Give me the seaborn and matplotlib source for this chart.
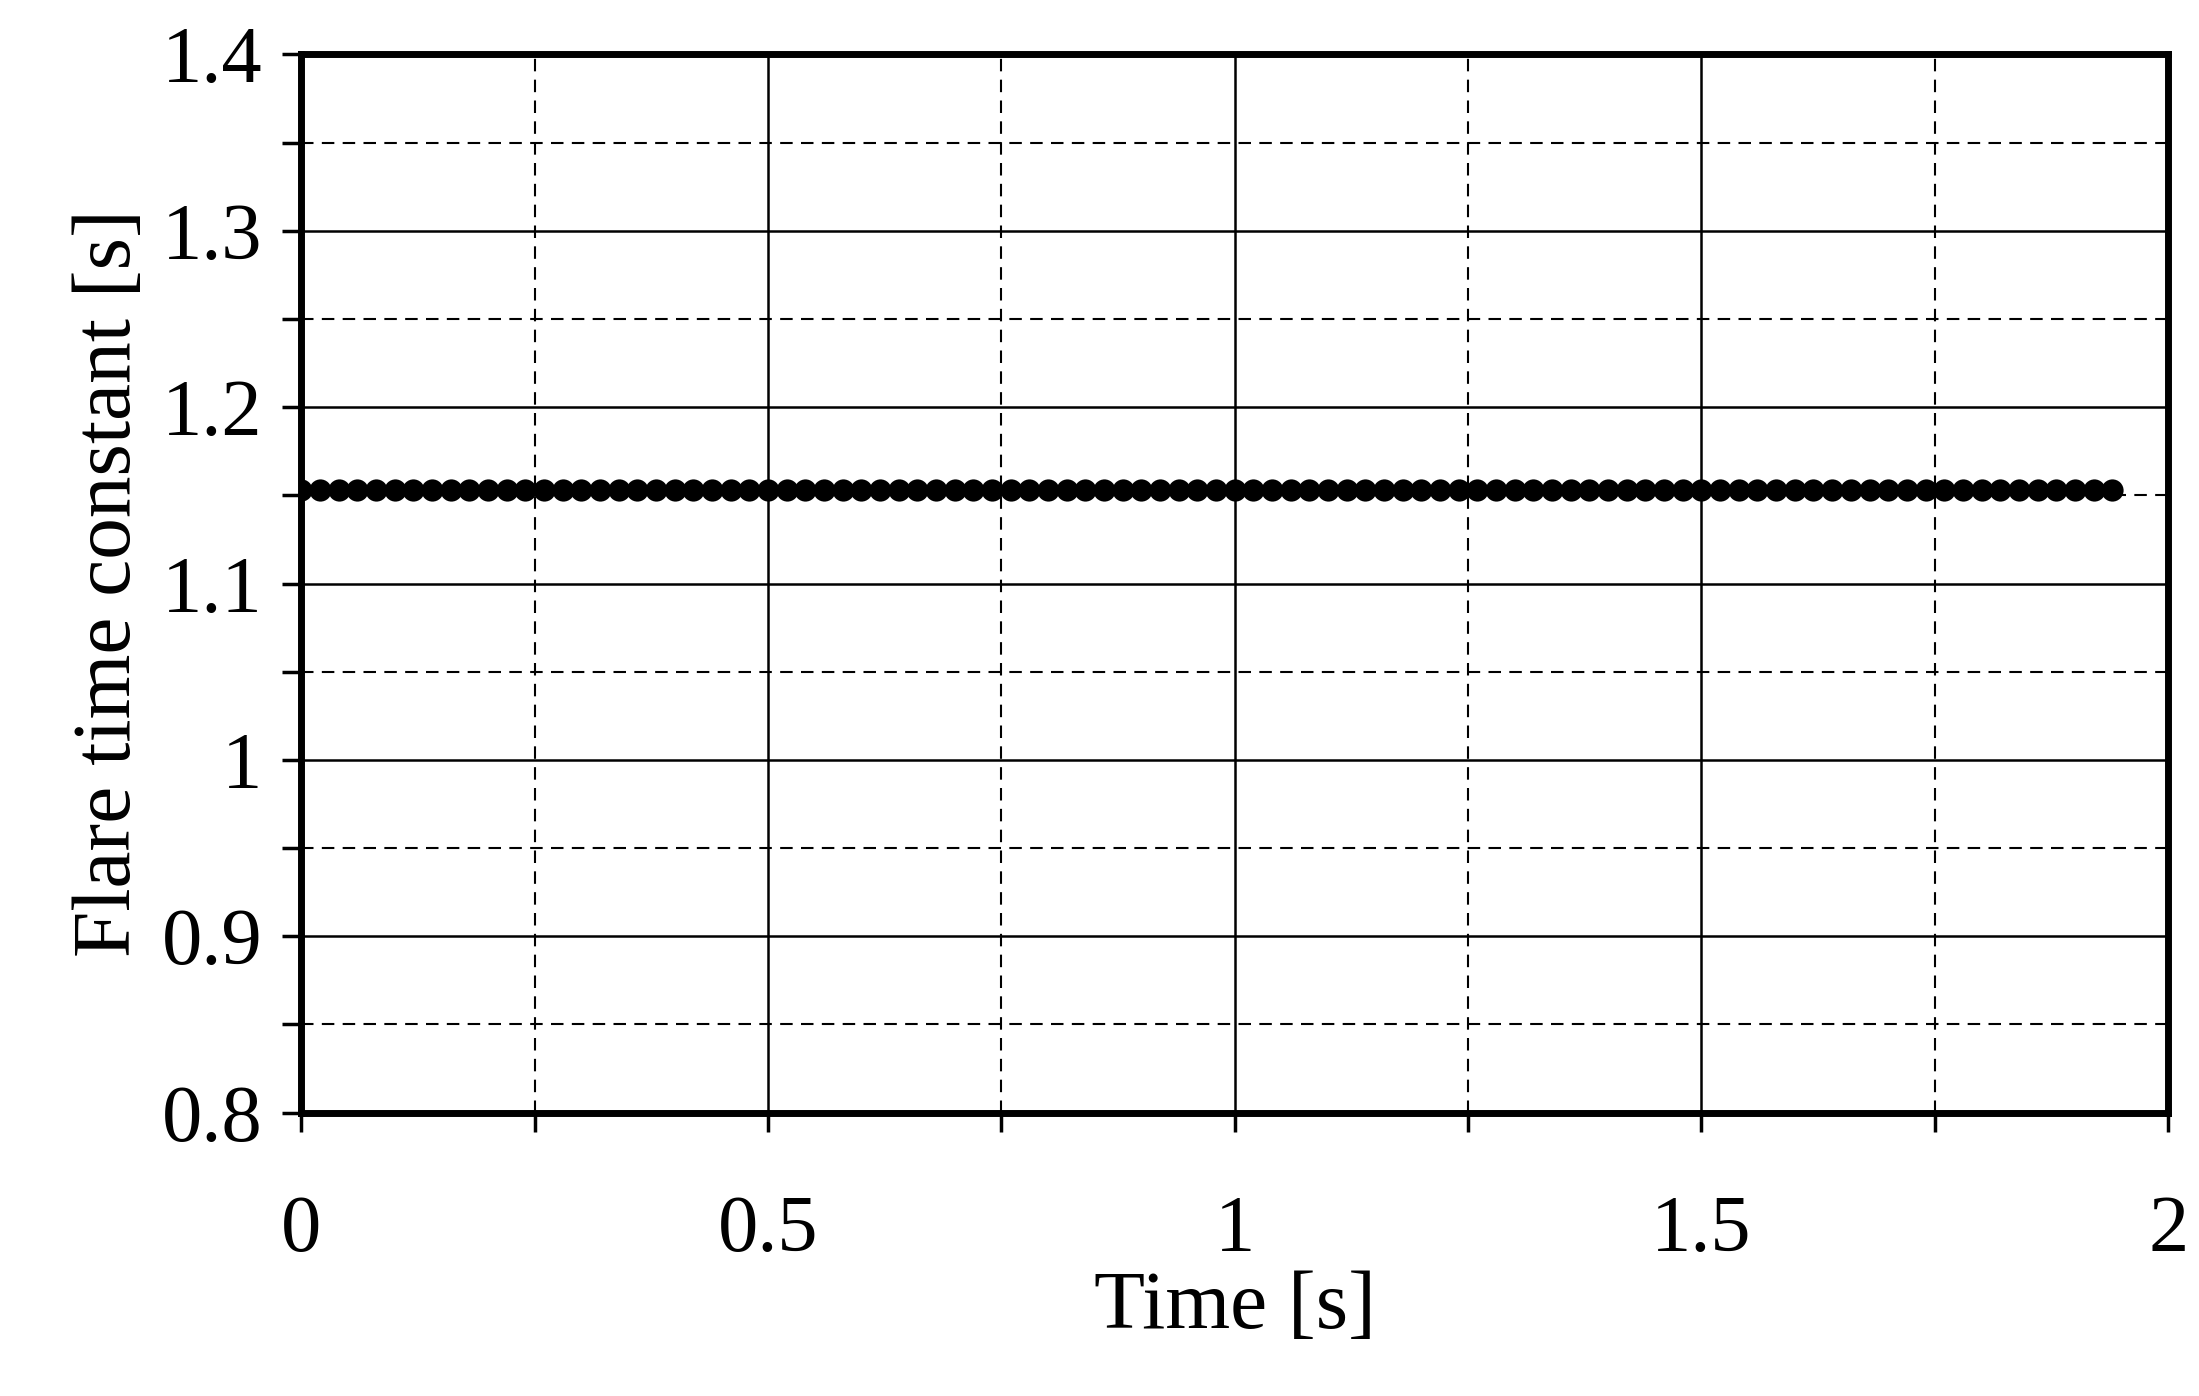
import matplotlib
matplotlib.use("Agg")
import matplotlib.pyplot as plt
import seaborn as sns
import pandas as pd
from matplotlib.ticker import MultipleLocator

sns.set_style("white")
plt.rcParams['font.family'] = ['Liberation Serif', 'DejaVu Serif']
plt.rcParams['text.color'] = 'black'
plt.rcParams['axes.labelcolor'] = 'black'
plt.rcParams['xtick.color'] = 'black'
plt.rcParams['ytick.color'] = 'black'

# time samples every 0.02 s
time_s = [0.00, 0.02, 0.04, 0.06, 0.08, 0.10, 0.12, 0.14, 0.16, 0.18,
          0.20, 0.22, 0.24, 0.26, 0.28, 0.30, 0.32, 0.34, 0.36, 0.38,
          0.40, 0.42, 0.44, 0.46, 0.48, 0.50, 0.52, 0.54, 0.56, 0.58,
          0.60, 0.62, 0.64, 0.66, 0.68, 0.70, 0.72, 0.74, 0.76, 0.78,
          0.80, 0.82, 0.84, 0.86, 0.88, 0.90, 0.92, 0.94, 0.96, 0.98,
          1.00, 1.02, 1.04, 1.06, 1.08, 1.10, 1.12, 1.14, 1.16, 1.18,
          1.20, 1.22, 1.24, 1.26, 1.28, 1.30, 1.32, 1.34, 1.36, 1.38,
          1.40, 1.42, 1.44, 1.46, 1.48, 1.50, 1.52, 1.54, 1.56, 1.58,
          1.60, 1.62, 1.64, 1.66, 1.68, 1.70, 1.72, 1.74, 1.76, 1.78,
          1.80, 1.82, 1.84, 1.86, 1.88, 1.90, 1.92, 1.94]
flare_value = 1.153
flare_tc = [flare_value] * len(time_s)

df = pd.DataFrame({"t": time_s, "tc": flare_tc})

fig = plt.figure(figsize=(21.99, 13.96), dpi=100)
ax = fig.add_axes([0.137, 0.203, 0.849, 0.758])

sns.lineplot(data=df, x="t", y="tc", ax=ax, color="black", lw=3,
             marker="o", markersize=16, markeredgewidth=0)

ax.set_xlim(0, 2)
ax.set_ylim(0.8, 1.4)
ax.xaxis.set_major_locator(MultipleLocator(0.5))
ax.xaxis.set_minor_locator(MultipleLocator(0.25))
ax.yaxis.set_major_locator(MultipleLocator(0.1))
ax.yaxis.set_minor_locator(MultipleLocator(0.05))
ax.set_xticks([0, 0.5, 1, 1.5, 2], ["0", "0.5", "1", "1.5", "2"])
ax.set_yticks([0.8, 0.9, 1.0, 1.1, 1.2, 1.3, 1.4],
              ["0.8", "0.9", "1", "1.1", "1.2", "1.3", "1.4"])

ax.grid(which="major", color="black", lw=1.8, ls="-")
ax.grid(which="minor", color="black", lw=1.5, ls=(0, (6, 4)))
for s in ax.spines.values():
    s.set_color("black")
    s.set_linewidth(5)

ax.tick_params(which="both", direction="out", color="black", width=2.5,
               bottom=True, left=True, labelsize=58)
ax.tick_params(which="major", length=14)
ax.tick_params(which="minor", length=14)
ax.tick_params(axis="x", pad=45)
ax.tick_params(axis="y", pad=14)

ax.set_xlabel("Time [s]", fontsize=60, labelpad=2)
ax.set_ylabel("Flare time constant [s]", fontsize=60, labelpad=10)

fig.savefig("out.png", dpi=100)
